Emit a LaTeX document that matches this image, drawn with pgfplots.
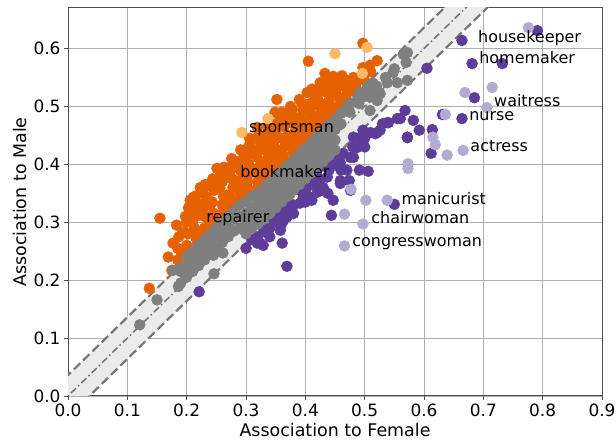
\documentclass[border=0pt]{standalone}
\usepackage{fontspec}
\setmainfont{DejaVu Sans}
\usepackage{pgfplots}
\pgfplotsset{compat=1.18}
\definecolor{cor}{HTML}{E66101}
\definecolor{clo}{HTML}{FDB863}
\definecolor{cpu}{HTML}{5E3C99}
\definecolor{clp}{HTML}{B2ABD2}
\definecolor{cgr}{HTML}{7F7F7F}
\definecolor{cband}{HTML}{EBEBEB}
\definecolor{cline}{HTML}{777777}
\definecolor{cgrid}{HTML}{B0B0B0}
\begin{document}
\begin{tikzpicture}
\begin{axis}[
  set layers=standard,
  scale only axis, width=534bp, height=388bp,
  xmin=0, xmax=0.9, ymin=0, ymax=0.67,
  xtick={0,0.1,0.2,0.3,0.4,0.5,0.6,0.7,0.8,0.9},
  ytick={0,0.1,0.2,0.3,0.4,0.5,0.6},
  grid=major, grid style={color=cgrid, line width=0.8bp},
  axis line style={color=black!70, line width=1bp},
  tick style={color=black!70, line width=0.8bp},
  tick align=outside, major tick length=4bp, tick pos=left,
  ticklabel style={font=\fontsize{17}{20}\selectfont},
  /pgf/number format/.cd, fixed, fixed zerofill, precision=1, assume math mode=true,
  /pgfplots/.cd,
  xlabel={Association to Female}, ylabel={Association to Male},
  label style={font=\fontsize{17.5}{21}\selectfont},
  every axis plot/.append style={mark size=5.5bp},
]
% band
\addplot[fill=cband, draw=none, forget plot] coordinates {(-0.1,-0.064) (0.8,0.836) (0.8,0.764) (-0.1,-0.136)} -- cycle;
% orange (male-associated)
\addplot[only marks, mark=*, color=cor] coordinates {
(0.137,0.186)(0.155,0.307)(0.169,0.24)(0.175,0.217)(0.177,0.264)
(0.194,0.283)(0.19,0.25)(0.2,0.30)
(0.206,0.338)(0.211,0.343)(0.206,0.321)(0.218,0.264)(0.223,0.281)(0.21,0.3)(0.215,0.31)
(0.223,0.36)(0.226,0.359)(0.236,0.364)(0.228,0.324)(0.234,0.274)(0.234,0.343)(0.219,0.333)(0.24,0.3)(0.23,0.29)(0.245,0.316)(0.243,0.367)(0.24,0.33)
(0.251,0.393)(0.256,0.359)(0.268,0.347)(0.26,0.33)(0.265,0.31)(0.255,0.3)(0.27,0.38)(0.26,0.37)(0.275,0.33)(0.278,0.36)
(0.278,0.402)(0.295,0.421)(0.302,0.412)(0.29,0.39)(0.285,0.37)(0.29,0.35)(0.3,0.36)(0.295,0.38)(0.305,0.4)(0.285,0.335)(0.3,0.345)
(0.307,0.436)(0.319,0.464)(0.319,0.412)(0.324,0.441)(0.315,0.39)(0.32,0.37)(0.33,0.38)(0.325,0.4)(0.31,0.42)(0.33,0.425)(0.315,0.355)
(0.336,0.453)(0.341,0.419)(0.352,0.512)(0.357,0.424)(0.357,0.476)(0.345,0.44)(0.35,0.46)(0.34,0.4)(0.355,0.41)(0.36,0.445)(0.345,0.39)(0.35,0.47)
(0.369,0.49)(0.379,0.484)(0.379,0.471)(0.379,0.429)(0.39,0.512)(0.391,0.481)(0.37,0.45)(0.38,0.44)(0.385,0.46)(0.365,0.43)(0.39,0.45)(0.375,0.50)(0.36,0.49)(0.396,0.493)
(0.396,0.441)(0.405,0.498)(0.405,0.578)(0.413,0.453)(0.42,0.502)(0.403,0.524)(0.408,0.505)(0.40,0.47)(0.41,0.48)(0.42,0.47)(0.415,0.52)(0.42,0.514)(0.40,0.455)
(0.425,0.541)(0.43,0.493)(0.433,0.557)(0.437,0.524)(0.437,0.541)(0.447,0.552)(0.447,0.498)(0.447,0.522)(0.44,0.51)(0.43,0.48)(0.445,0.49)(0.45,0.535)
(0.454,0.533)(0.459,0.51)(0.462,0.553)(0.464,0.536)(0.464,0.51)(0.47,0.522)(0.476,0.545)(0.481,0.55)(0.47,0.53)
(0.497,0.567)(0.497,0.609)(0.509,0.571)(0.521,0.579)(0.49,0.55)(0.50,0.56)(0.485,0.535)
(0.185,0.235)(0.185,0.255)(0.187,0.275)(0.183,0.295)
(0.20,0.26)(0.202,0.28)(0.198,0.31)(0.203,0.325)
(0.215,0.275)(0.213,0.29)(0.217,0.325)(0.214,0.345)
(0.23,0.31)(0.232,0.33)(0.228,0.35)(0.231,0.365)
(0.245,0.29)(0.247,0.305)(0.243,0.335)(0.246,0.355)(0.244,0.375)
(0.26,0.315)(0.262,0.345)(0.258,0.385)(0.263,0.395)
(0.275,0.32)(0.273,0.345)(0.277,0.375)(0.274,0.39)(0.276,0.41)
(0.29,0.335)(0.292,0.365)(0.288,0.405)(0.291,0.425)
(0.305,0.35)(0.303,0.37)(0.307,0.385)(0.304,0.43)(0.306,0.445)
(0.32,0.36)(0.322,0.385)(0.318,0.425)(0.321,0.45)
(0.335,0.375)(0.333,0.395)(0.337,0.41)(0.334,0.435)(0.336,0.465)
(0.35,0.39)(0.352,0.405)(0.348,0.43)(0.351,0.45)(0.349,0.49)
(0.365,0.405)(0.363,0.415)(0.367,0.44)(0.364,0.465)(0.366,0.48)
(0.38,0.42)(0.382,0.455)(0.378,0.495)
(0.395,0.435)(0.393,0.465)(0.397,0.475)(0.394,0.505)
(0.41,0.45)(0.412,0.465)(0.408,0.49)(0.411,0.53)
(0.425,0.465)(0.423,0.485)(0.427,0.505)(0.424,0.525)
(0.44,0.48)(0.442,0.5)(0.438,0.53)(0.441,0.545)
(0.455,0.495)(0.453,0.52)(0.457,0.545)
(0.47,0.51)(0.472,0.54)(0.485,0.525)(0.487,0.545)(0.50,0.545)(0.51,0.56)
};
% purple (female-associated)
\addplot[only marks, mark=*, color=cpu] coordinates {
(0.221,0.18)(0.664,0.614)(0.791,0.631)(0.681,0.574)(0.732,0.574)(0.605,0.566)(0.685,0.515)(0.664,0.479)(0.631,0.486)(0.614,0.46)(0.592,0.459)(0.572,0.446)(0.612,0.419)(0.55,0.331)(0.444,0.312)(0.474,0.372)(0.491,0.39)(0.506,0.388)
(0.437,0.378)(0.438,0.35)(0.425,0.355)(0.411,0.338)(0.396,0.341)(0.391,0.355)(0.369,0.309)(0.358,0.286)(0.361,0.264)(0.369,0.224)
(0.369,0.316)(0.352,0.3)(0.319,0.264)(0.329,0.26)(0.341,0.309)
(0.447,0.419)(0.459,0.403)(0.47,0.39)(0.481,0.412)(0.487,0.429)(0.42,0.367)(0.43,0.355)(0.408,0.343)(0.391,0.333)(0.447,0.338)(0.459,0.367)(0.476,0.355)
(0.568,0.493)(0.582,0.476)(0.555,0.479)(0.538,0.472)(0.521,0.455)(0.497,0.459)(0.481,0.447)(0.572,0.447)
(0.56,0.479)(0.54,0.472)(0.526,0.459)(0.518,0.453)(0.492,0.446)(0.464,0.419)(0.476,0.412)(0.454,0.407)(0.437,0.395)(0.459,0.372)(0.425,0.372)(0.43,0.36)(0.42,0.352)
(0.40,0.355)(0.41,0.365)(0.38,0.33)(0.37,0.325)(0.36,0.32)(0.35,0.31)(0.42,0.38)(0.45,0.40)(0.50,0.445)(0.51,0.455)(0.53,0.47)(0.33,0.285)(0.34,0.29)(0.31,0.27)
(0.30,0.255)(0.32,0.275)(0.34,0.275)(0.36,0.297)(0.38,0.315)(0.40,0.335)(0.42,0.39)(0.44,0.39)(0.46,0.39)(0.48,0.43)(0.50,0.43)(0.403,0.367)(0.374,0.321)(0.363,0.303)(0.324,0.264)
};
% gray (neutral)
\addplot[only marks, mark=*, color=cgr] coordinates {
(0.121,0.123)(0.15,0.166)(0.186,0.189)(0.177,0.217)(0.189,0.222)(0.246,0.211)(0.228,0.24)(0.245,0.243)(0.261,0.247)
(0.19,0.195)(0.19,0.215)(0.20,0.205)(0.20,0.225)(0.20,0.24)(0.21,0.215)(0.21,0.235)(0.21,0.25)
(0.22,0.225)(0.22,0.245)(0.22,0.26)(0.23,0.235)(0.23,0.255)(0.23,0.27)(0.24,0.245)(0.24,0.265)(0.24,0.28)
(0.25,0.255)(0.25,0.275)(0.25,0.29)(0.26,0.265)(0.26,0.285)(0.26,0.30)(0.27,0.275)(0.27,0.295)(0.27,0.31)
(0.28,0.285)(0.28,0.305)(0.28,0.32)(0.29,0.29)(0.29,0.31)(0.29,0.33)
(0.30,0.28)(0.30,0.295)(0.30,0.315)(0.30,0.335)(0.31,0.29)(0.31,0.305)(0.31,0.325)(0.31,0.345)
(0.32,0.297)(0.32,0.314)(0.32,0.332)(0.32,0.35)(0.33,0.306)(0.33,0.322)(0.33,0.34)(0.33,0.36)
(0.34,0.315)(0.34,0.332)(0.34,0.35)(0.34,0.368)(0.35,0.325)(0.35,0.342)(0.35,0.36)(0.35,0.378)
(0.36,0.335)(0.36,0.352)(0.36,0.37)(0.36,0.388)(0.37,0.345)(0.37,0.362)(0.37,0.38)(0.37,0.398)
(0.38,0.355)(0.38,0.372)(0.38,0.39)(0.38,0.408)(0.39,0.365)(0.39,0.382)(0.39,0.40)(0.39,0.418)
(0.40,0.375)(0.40,0.392)(0.40,0.41)(0.40,0.428)(0.41,0.385)(0.41,0.402)(0.41,0.42)(0.41,0.438)
(0.42,0.395)(0.42,0.412)(0.42,0.43)(0.42,0.448)(0.43,0.405)(0.43,0.422)(0.43,0.44)(0.43,0.458)
(0.44,0.415)(0.44,0.432)(0.44,0.45)(0.44,0.468)(0.45,0.425)(0.45,0.442)(0.45,0.46)(0.45,0.478)
(0.46,0.47)(0.46,0.488)(0.475,0.49)(0.475,0.505)(0.49,0.505)(0.49,0.52)(0.505,0.52)(0.505,0.535)
(0.52,0.535)(0.535,0.55)(0.55,0.565)(0.565,0.59)
(0.572,0.593)(0.57,0.576)(0.548,0.559)(0.538,0.541)(0.555,0.541)(0.572,0.545)(0.514,0.528)(0.497,0.516)(0.521,0.51)(0.509,0.493)(0.492,0.524)(0.509,0.516)(0.526,0.522)(0.487,0.51)(0.47,0.498)(0.459,0.488)(0.514,0.54)
};
% highlighted
\addplot[only marks, mark=*, color=clo] coordinates {
(0.293,0.455)(0.337,0.479)(0.45,0.591)(0.504,0.602)(0.496,0.557)
};
\addplot[only marks, mark=*, color=clp] coordinates {
(0.776,0.636)(0.669,0.524)(0.715,0.533)(0.706,0.498)(0.636,0.486)(0.615,0.447)(0.619,0.434)(0.666,0.424)(0.639,0.416)(0.573,0.401)(0.573,0.393)(0.538,0.338)(0.502,0.338)(0.497,0.297)(0.466,0.259)(0.466,0.314)(0.477,0.357)
};
% lines
\addplot[color=cline, line width=2.2bp, dash pattern=on 9bp off 4bp, forget plot] coordinates {(-0.1,-0.064) (0.8,0.836)};
\addplot[color=cline, line width=2.2bp, dash pattern=on 9bp off 4bp, forget plot] coordinates {(-0.1,-0.136) (0.8,0.764)};
\addplot[color=cline, line width=1.6bp, dash pattern=on 7bp off 3bp on 1.5bp off 3bp, forget plot] coordinates {(-0.1,-0.1) (0.8,0.8)};
% annotations
\begin{pgfonlayer}{axis foreground}
\begin{scope}[every node/.style={anchor=base west, inner sep=0pt, font=\fontsize{16}{19}\selectfont}]
\node at (axis cs:0.691,0.610) {housekeeper};
\node at (axis cs:0.693,0.574) {homemaker};
\node at (axis cs:0.718,0.500) {waitress};
\node at (axis cs:0.676,0.476) {nurse};
\node at (axis cs:0.678,0.422) {actress};
\node at (axis cs:0.562,0.331) {manicurist};
\node at (axis cs:0.511,0.297) {chairwoman};
\node at (axis cs:0.479,0.259) {congresswoman};
\node at (axis cs:0.305,0.455) {sportsman};
\node at (axis cs:0.290,0.378) {bookmaker};
\node at (axis cs:0.233,0.300) {repairer};
\end{scope}
\end{pgfonlayer}
\end{axis}
\pgfresetboundingbox
\path[use as bounding box] ([xshift=-68bp,yshift=-49bp]current axis.south west) rectangle ([xshift=14bp,yshift=8bp]current axis.north east);
\end{tikzpicture}
\end{document}
